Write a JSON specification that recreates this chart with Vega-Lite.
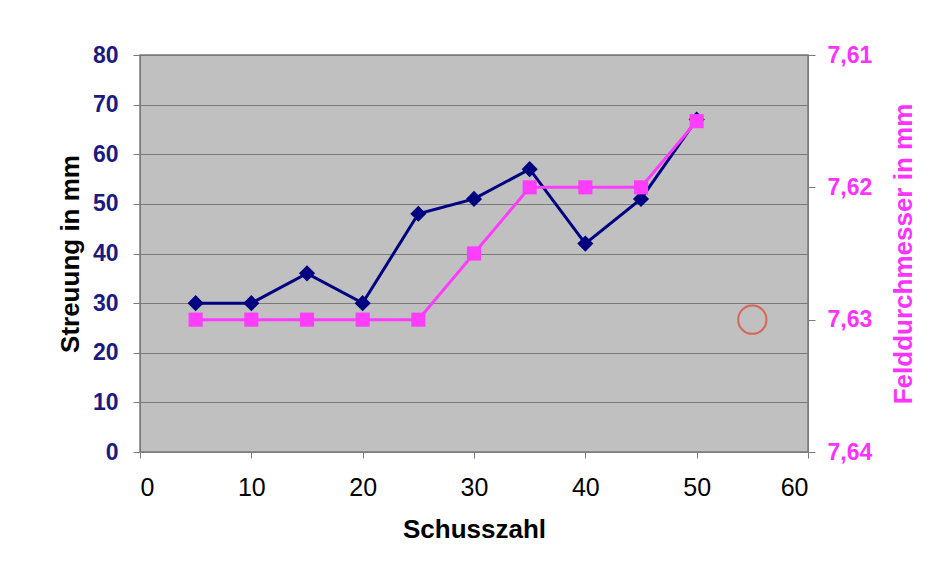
{
  "$schema": "https://vega.github.io/schema/vega-lite/v6.json",
  "autosize": {"type": "none"},
  "width": 668,
  "height": 397,
  "padding": {"left": 140, "top": 55, "right": 132, "bottom": 124},
  "background": "white",
  "config": {
    "font": "Liberation Sans",
    "view": {"fill": "#c0c0c0", "stroke": "#7a7a7a", "strokeWidth": 1.5},
    "axis": {"labelFontSize": 23, "titleFontSize": 26, "titleFontWeight": "bold", "titleColor": "black", "domainColor": "#7a7a7a", "tickColor": "#7a7a7a"}
  },
  "datasets": {
    "main": [
      {"Schusszahl": 5, "Streuung": 30, "Feld": 7.63},
      {"Schusszahl": 10, "Streuung": 30, "Feld": 7.63},
      {"Schusszahl": 15, "Streuung": 36, "Feld": 7.63},
      {"Schusszahl": 20, "Streuung": 30, "Feld": 7.63},
      {"Schusszahl": 25, "Streuung": 48, "Feld": 7.63},
      {"Schusszahl": 30, "Streuung": 51, "Feld": 7.625},
      {"Schusszahl": 35, "Streuung": 57, "Feld": 7.62},
      {"Schusszahl": 40, "Streuung": 42, "Feld": 7.62},
      {"Schusszahl": 45, "Streuung": 51, "Feld": 7.62},
      {"Schusszahl": 50, "Streuung": 67, "Feld": 7.615}
    ],
    "marker": [{"Schusszahl": 55, "Feld": 7.63}]
  },
  "layer": [
    {
      "data": {"name": "main"},
      "mark": {"type": "line", "color": "#000080", "strokeWidth": 3, "point": {"shape": "diamond", "size": 260, "filled": true, "color": "#000080"}},
      "encoding": {
        "x": {"field": "Schusszahl", "type": "quantitative", "scale": {"domain": [0, 60], "nice": false}, "axis": {"values": [0, 10, 20, 30, 40, 50, 60], "title": "Schusszahl", "grid": false, "labelColor": "black", "labelFontSize": 25, "labelPadding": 17, "tickSize": 6, "titlePadding": 16, "labelFontWeight": "normal"}},
        "y": {"field": "Streuung", "type": "quantitative", "scale": {"domain": [0, 80], "nice": false}, "axis": {"values": [0, 10, 20, 30, 40, 50, 60, 70, 80], "title": "Streuung in mm", "grid": true, "gridColor": "#7a7a7a", "gridWidth": 1.2, "labelColor": "#1a1a80", "labelFontSize": 23, "labelFontWeight": "bold", "tickSize": 7, "labelPadding": 15, "titlePadding": 9}}
      }
    },
    {
      "layer": [
        {
          "data": {"name": "main"},
          "mark": {"type": "line", "color": "#ff3dff", "strokeWidth": 3, "point": {"shape": "square", "size": 200, "filled": true, "color": "#ff3dff"}},
          "encoding": {
            "x": {"field": "Schusszahl", "type": "quantitative"},
            "y": {"field": "Feld", "type": "quantitative", "scale": {"domain": [7.64, 7.61], "nice": false, "zero": false}, "axis": {"orient": "right", "values": [7.61, 7.62, 7.63, 7.64], "title": "Felddurchmesser in mm", "titleAngle": 270, "titleColor": "#ff33ff", "labelColor": "#ff33ff", "labelFontSize": 23, "labelFontWeight": "bold", "labelExpr": "replace(format(datum.value, '.2f'), '.', ',')", "grid": false, "tickSize": 7, "labelPadding": 12, "titlePadding": 45}}
          }
        },
        {
          "data": {"name": "marker"},
          "mark": {"type": "point", "shape": "circle", "filled": false, "color": "#e0402c", "strokeWidth": 2, "size": 800},
          "encoding": {
            "x": {"field": "Schusszahl", "type": "quantitative"},
            "y": {"field": "Feld", "type": "quantitative"}
          }
        }
      ]
    }
  ],
  "resolve": {"scale": {"y": "independent"}}
}
